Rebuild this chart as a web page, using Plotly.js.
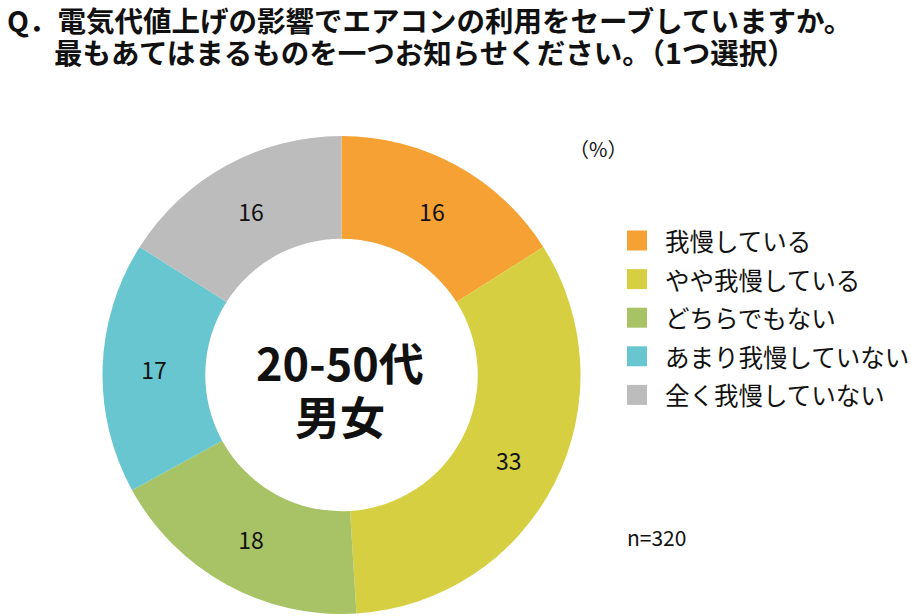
<!DOCTYPE html>
<html>
<head>
<meta charset="utf-8">
<script src="https://cdn.plot.ly/plotly-3.0.1.min.js"></script>
<style>html,body{margin:0;padding:0;background:#fff;}#chart{width:918px;height:616px;}</style>
</head>
<body>
<div id="chart"></div>
<script>
const categories = ["我慢している", "やや我慢している", "どちらでもない", "あまり我慢していない", "全く我慢していない"];
const values = [16, 33, 18, 17, 16];
const colors = ["#F5A133", "#D6CF42", "#A8C366", "#67C6CF", "#BCBCBC"];
const titleLines = ["Q．電気代値上げの影響でエアコンの利用をセーブしていますか。", "最もあてはまるものを一つお知らせください。（1つ選択）"];
const centerLines = ["20-50代", "男女"];
const unitLabel = "（%）";
const sampleLabel = "n=320";

const W = 918, H = 616;
const px = x => x / W;
const py = y => 1 - y / H;
const FONT = "'Noto Sans CJK JP', 'Noto Sans', sans-serif";

const trace = {
  type: "pie",
  labels: categories,
  values: values,
  marker: {colors: colors, line: {width: 0}},
  hole: 0.57,
  sort: false,
  direction: "clockwise",
  rotation: 0,
  textinfo: "value",
  textposition: "inside",
  insidetextorientation: "horizontal",
  textfont: {family: FONT, size: 23, color: "#111"},
  showlegend: false,
  hoverinfo: "label+value",
  domain: {x: [px(341.5 - 239), px(341.5 + 239)], y: [py(614), py(136)]}
};

const annotations = [];
const shapes = [];
// title
annotations.push({xref: "paper", yref: "paper", x: px(5), y: py(20), xanchor: "left", yanchor: "middle",
  text: "<b>" + titleLines[0] + "</b>", showarrow: false, font: {family: FONT, size: 28.5, color: "#111"}});
annotations.push({xref: "paper", yref: "paper", x: px(52), y: py(52), xanchor: "left", yanchor: "middle",
  text: "<b>" + titleLines[1] + "</b>", showarrow: false, font: {family: FONT, size: 28.5, color: "#111"}});
// center text
annotations.push({xref: "paper", yref: "paper", x: px(340), y: py(361), xanchor: "center", yanchor: "middle",
  text: "<b>" + centerLines[0] + "</b>", showarrow: false, font: {family: FONT, size: 45, color: "#111"}});
annotations.push({xref: "paper", yref: "paper", x: px(340), y: py(415), xanchor: "center", yanchor: "middle",
  text: "<b>" + centerLines[1] + "</b>", showarrow: false, font: {family: FONT, size: 45, color: "#111"}});
// unit and n
annotations.push({xref: "paper", yref: "paper", x: px(598), y: py(148), xanchor: "center", yanchor: "middle",
  text: unitLabel, showarrow: false, font: {family: FONT, size: 20, color: "#111"}});
annotations.push({xref: "paper", yref: "paper", x: px(625), y: py(537), xanchor: "left", yanchor: "middle",
  text: sampleLabel, showarrow: false, font: {family: FONT, size: 21, color: "#111"}});
// legend built from the arrays
categories.forEach((c, i) => {
  const cy = 240.5 + i * 38.6;
  shapes.push({type: "rect", xref: "paper", yref: "paper", x0: px(627), x1: px(647), y0: py(cy + 10), y1: py(cy - 10),
    fillcolor: colors[i], line: {width: 0}});
  annotations.push({xref: "paper", yref: "paper", x: px(663), y: py(cy), xanchor: "left", yanchor: "middle",
    text: c, showarrow: false, font: {family: FONT, size: 24.5, color: "#111"}});
});

const layout = {
  width: W, height: H,
  margin: {l: 0, r: 0, t: 0, b: 0},
  paper_bgcolor: "#fff",
  plot_bgcolor: "#fff",
  showlegend: false,
  annotations: annotations,
  shapes: shapes
};

Plotly.newPlot("chart", [trace], layout, {displayModeBar: false, staticPlot: true});
</script>
</body>
</html>
